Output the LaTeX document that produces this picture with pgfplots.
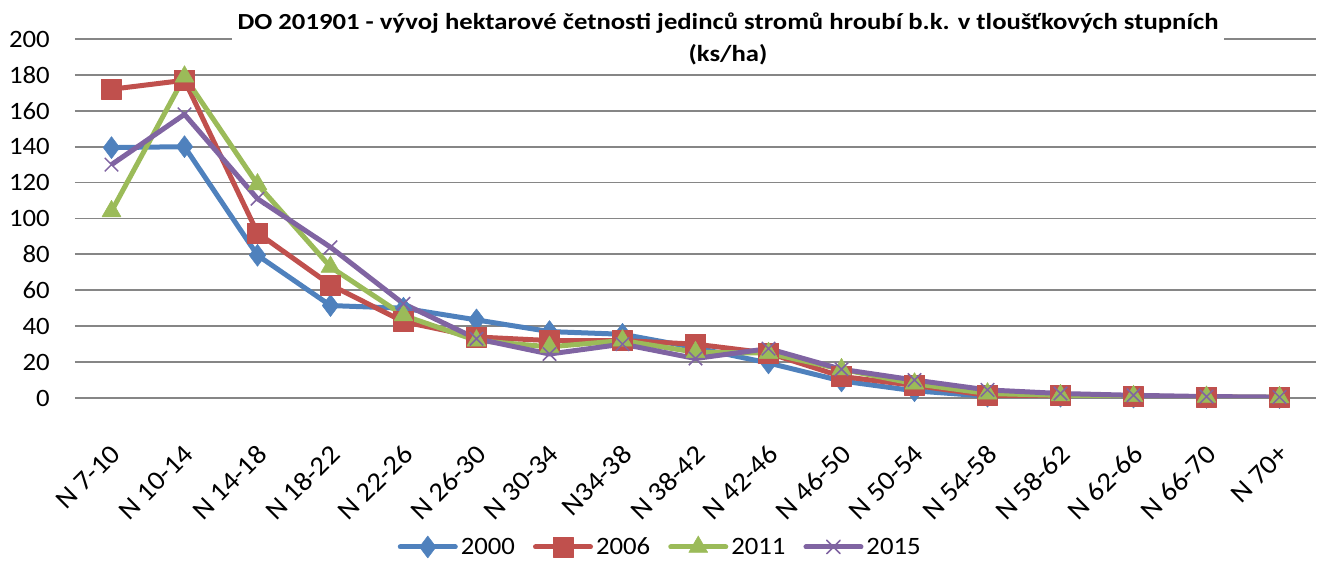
\documentclass[border=0pt]{standalone}
\usepackage{fontspec}
\setmainfont[FakeStretch=1.07]{Carlito}
\newfontfamily\titlefont[FakeStretch=1.16]{Carlito}
\usepackage{pgfplots}
\pgfplotsset{compat=1.18}

\definecolor{c2000}{HTML}{4F81BD}
\definecolor{c2006}{HTML}{C0504D}
\definecolor{c2011}{HTML}{9BBB59}
\definecolor{c2015}{HTML}{8064A2}
\definecolor{gridgray}{HTML}{868686}

\begin{document}
\begin{tikzpicture}[x=1pt,y=1pt]
\useasboundingbox (0,0) rectangle (1325,561);
\begin{axis}[
    at={(75pt,163pt)}, anchor=south west,
    width=1241pt, height=359pt, scale only axis,
    xmin=-0.5, xmax=16.5, ymin=0, ymax=200,
    ytick={0,20,...,200},
    xtick={0,...,16},
    xticklabels={N 7-10, N 10-14, N 14-18, N 18-22, N 22-26, N 26-30, N 30-34, N34-38,
                 N 38-42, N 42-46, N 46-50, N 50-54, N 54-58, N 58-62, N 62-66, N 66-70, N 70+},
    ymajorgrids,
    grid style={line width=1.8pt, color=gridgray},
    axis line style={draw=none},
    major tick length=0pt,
    /pgf/number format/assume math mode=true,
    tick label style={font=\fontsize{25}{25}\selectfont},
    yticklabel style={anchor=east, inner sep=0pt, xshift=-25pt},
    x tick label style={inner sep=0pt, xshift=-2pt, yshift=-45pt, rotate=45, anchor=north east,
                        font=\fontsize{27}{27}\selectfont},
    every axis plot/.append style={line width=5pt, line join=round},
    legend columns=4,
    legend style={at={(0.472,-0.415)}, anchor=center, draw=none, fill=none,
        font=\fontsize{25}{25}\selectfont,
        nodes={inner xsep=3pt},
        /tikz/every even column/.append style={column sep=15pt}},
    legend image code/.code={%
        \draw[mark repeat=2, mark phase=2, line cap=round, #1]
        plot coordinates {(0pt,0pt) (27.5pt,0pt) (55pt,0pt)};},
]
\addplot[c2000, mark=diamond*, mark size=11pt, mark options={line width=0.5pt, fill=c2000}]
coordinates {(0,139.5) (1,140) (2,79.5) (3,51.5) (4,50) (5,43.5) (6,37) (7,35.5)
             (8,28) (9,19.5) (10,9.5) (11,4) (12,1) (13,1) (14,0.5) (15,0.3) (16,0.2)};
\addplot[c2006, mark=square*, mark size=10pt, mark options={line width=0.5pt, fill=c2006}]
coordinates {(0,172) (1,177) (2,92) (3,63) (4,42.5) (5,34) (6,32) (7,32)
             (8,30) (9,25) (10,12) (11,7) (12,1.5) (13,1.5) (14,0.8) (15,0.5) (16,0.3)};
\addplot[c2011, mark=triangle*, mark size=11pt, mark options={line width=0.5pt, fill=c2011}]
coordinates {(0,104) (1,179) (2,119) (3,73) (4,46) (5,32) (6,28.5) (7,32)
             (8,25.5) (9,25) (10,16) (11,8) (12,2.5) (13,1.5) (14,1) (15,0.6) (16,0.4)};
\addplot[c2015, mark=x, mark size=9.5pt, mark options={line width=1.5pt}]
coordinates {(0,130) (1,158) (2,111) (3,84) (4,52.5) (5,33) (6,24.5) (7,30)
             (8,22) (9,27.5) (10,16) (11,10) (12,4.5) (13,2.5) (14,1.5) (15,0.8) (16,0.5)};
\legend{2000, 2006, 2011, 2015}
\end{axis}
\node[fill=white, inner sep=6pt, align=center, font=\titlefont\bfseries\fontsize{23}{32}\selectfont]
  at (728,522) {DO 201901 - vývoj hektarové četnosti jedinců stromů hroubí b.k. v tloušťkových stupních\\(ks/ha)};
\end{tikzpicture}
\end{document}
